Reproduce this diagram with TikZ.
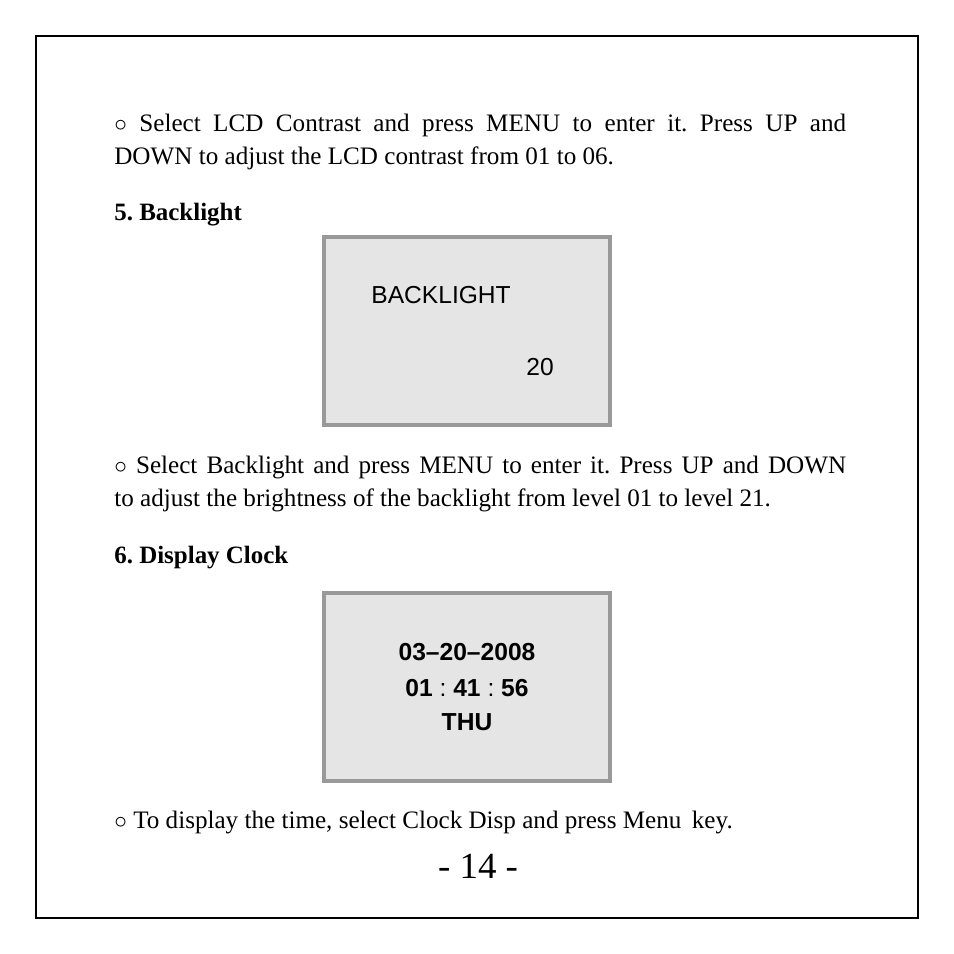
\documentclass[tikz,border=0pt]{standalone}
\usepackage{fontspec}
\setmainfont{Liberation Serif}
\setsansfont{Liberation Sans}
\usetikzlibrary{positioning}
\frenchspacing

\tikzset{
  para/.style={anchor=north west, inner sep=0pt, text width=14.64cm, align=justify,
    font=\fontsize{14.3}{18.8}\selectfont},
  head/.style={anchor=west, inner sep=0pt, font=\fontsize{14.2}{16}\selectfont\bfseries},
  screen/.style={draw=black!40, line width=2.2pt, fill=black!10},
  lcd/.style={inner sep=0pt, font=\sffamily\fontsize{14}{16}\selectfont},
  lcdbold/.style={lcd, font=\sffamily\bfseries\fontsize{14}{16}\selectfont}
}

\begin{document}
\begin{tikzpicture}[x=0.02cm, y=-0.02cm]
  \useasboundingbox (0,0) rectangle (954,954);
  % page frame
  \draw [line width=0.6pt] (36,36) rectangle (918,918);

  \node [para] (contrast) at (114,114)
    {{\Large$\circ$} Select LCD Contrast and press MENU to enter it. Press UP and\linebreak DOWN to adjust the LCD contrast from 01 to 06.};

  \node [head] (backhead) at (114,215) {5. Backlight};
  \draw [screen] (324,237) rectangle (610,425);
  \node [lcd, anchor=west] (backlabel) at (371,295) {BACKLIGHT};
  \node [lcd] (backvalue) at (540,367) {20};

  \node [para] (backtext) at (114,456)
    {{\Large$\circ$} Select Backlight and press MENU to enter it. Press UP and DOWN\linebreak to adjust the brightness of the backlight from level 01 to level 21.};

  \node [head] (clockhead) at (114,558) {6. Display Clock};
  \draw [screen] (324,593) rectangle (610,781);
  \node [lcdbold] (date) at (467,652) {03--20--2008};
  \node [lcdbold] (time) at (467,688) {01 {\mdseries:} 41 {\mdseries:} 56};
  \node [lcdbold] (day) at (467,722) {THU};

  \node [para, text width=, align=left, anchor=west] (clocktext) at (114,822)
    {{\Large$\circ$} To display the time, select Clock Disp and press Menu\, key.};

  \node [inner sep=0pt, font=\fontsize{21}{24}\selectfont] (pagenum) at (478,866) {- 14 -};
\end{tikzpicture}
\end{document}
